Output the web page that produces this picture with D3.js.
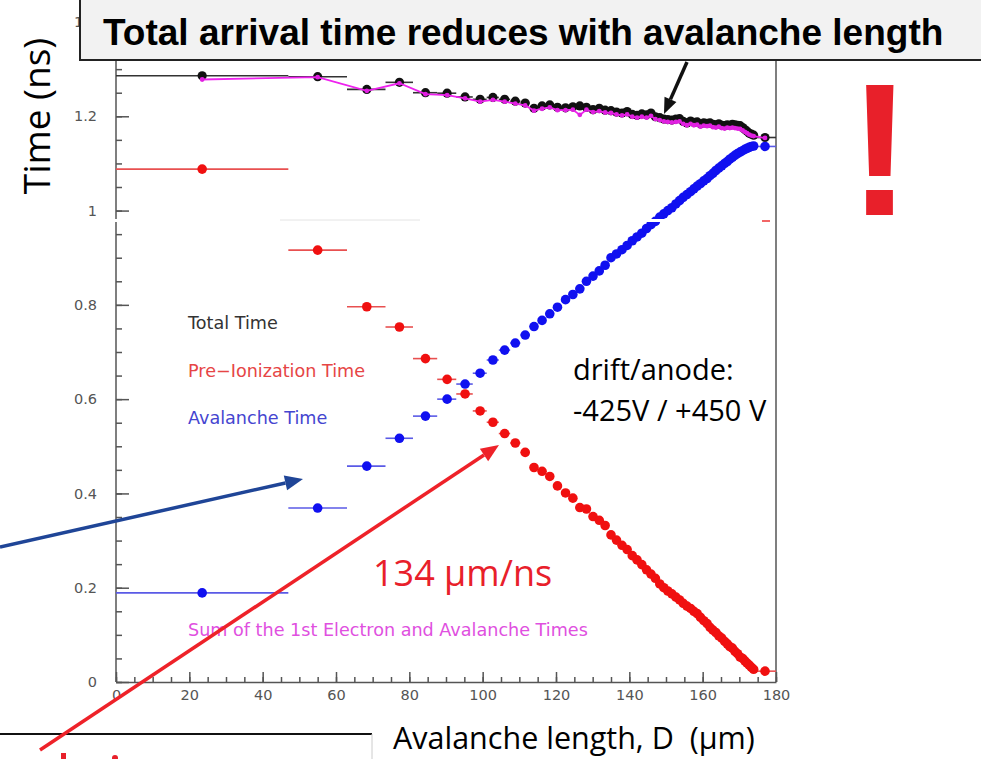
<!DOCTYPE html>
<html>
<head>
<meta charset="utf-8">
<script src="https://cdn.jsdelivr.net/npm/d3@7"></script>
<style>
  body { margin: 0; background: #fff; }
  svg { display: block; }
</style>
</head>
<body>
<svg id="chart"></svg>
<script>
// avalanche length bins (um)
var lengths = [23.5, 55, 68.4, 77.3, 84.4, 90.3, 95.2, 99.3, 102.8, 106, 108.9, 111.6, 114, 116.2, 118.3, 120.4, 122.6, 124.6, 126.5, 128.3,
  130.1, 131.8, 133.4, 135, 136.5, 138, 139.4, 140.8, 142.1, 143.4, 144.7, 145.9, 147.1, 148.3, 149.4, 150.5, 151.6, 152.7, 153.7, 154.7,
  155.7, 156.7, 157.6, 158.5, 159.4, 160.3, 161.2, 162.0, 162.8, 163.6, 164.4, 165.2, 166.0, 166.7, 167.4, 168.1, 168.8, 169.5, 170.2, 170.9,
  171.5, 172.1, 172.7, 173.3, 173.9, 177];
var binEdges = [0, 47, 63, 73.5, 81, 87.6, 92.8, 97.3, 101.1, 104.4, 107.5, 110.3, 112.8, 115.1, 117.3, 119.4, 121.5, 123.6, 125.6, 127.4,
  129.2, 131, 132.6, 134.2, 135.8, 137.3, 138.7, 140.1, 141.5, 142.8, 144.1, 145.3, 146.5, 147.7, 148.9, 150, 151.1, 152.2, 153.2, 154.2,
  155.2, 156.2, 157.2, 158.1, 159, 159.9, 160.8, 161.6, 162.4, 163.2, 164, 164.8, 165.6, 166.4, 167.1, 167.8, 168.5, 169.2, 169.9, 170.6,
  171.2, 171.8, 172.4, 173, 173.6, 174.2, 180];

var totalTime = [1.286, 1.284, 1.257, 1.272, 1.250, 1.249, 1.241, 1.236, 1.240, 1.236, 1.232, 1.228, 1.217, 1.222, 1.224, 1.219, 1.218, 1.220, 1.222, 1.219,
  1.214, 1.217, 1.213, 1.212, 1.209, 1.207, 1.210, 1.204, 1.202, 1.205, 1.203, 1.207, 1.199, 1.197, 1.194, 1.193, 1.192, 1.194, 1.195, 1.189,
  1.186, 1.190, 1.187, 1.188, 1.184, 1.186, 1.185, 1.186, 1.183, 1.182, 1.184, 1.181, 1.180, 1.182, 1.181, 1.183, 1.182, 1.181, 1.180, 1.176,
  1.172, 1.168, 1.164, 1.162, 1.160, 1.155];
var sumTime = [1.278, 1.283, 1.254, 1.270, 1.247, 1.245, 1.238, 1.231, 1.235, 1.231, 1.227, 1.223, 1.212, 1.216, 1.219, 1.213, 1.213, 1.214, 1.203, 1.214,
  1.209, 1.211, 1.208, 1.207, 1.204, 1.202, 1.204, 1.199, 1.197, 1.199, 1.197, 1.201, 1.194, 1.192, 1.189, 1.188, 1.187, 1.188, 1.189, 1.184,
  1.181, 1.184, 1.181, 1.182, 1.178, 1.180, 1.179, 1.180, 1.177, 1.176, 1.178, 1.175, 1.174, 1.176, 1.175, 1.176, 1.175, 1.174, 1.173, 1.170,
  1.167, 1.164, 1.161, 1.159, 1.158, 1.154];
var preIonTime = [1.088, 0.916, 0.796, 0.753, 0.686, 0.642, 0.611, 0.575, 0.551, 0.527, 0.507, 0.487, 0.455, 0.447, 0.436, 0.416, 0.401, 0.390, 0.370, 0.367,
  0.351, 0.343, 0.332, 0.312, 0.301, 0.290, 0.281, 0.268, 0.259, 0.249, 0.238, 0.229, 0.220, 0.208, 0.200, 0.193, 0.187, 0.180, 0.174, 0.167,
  0.161, 0.156, 0.150, 0.145, 0.137, 0.130, 0.124, 0.116, 0.110, 0.105, 0.098, 0.093, 0.086, 0.081, 0.075, 0.072, 0.065, 0.060, 0.053, 0.050,
  0.045, 0.040, 0.036, 0.031, 0.027, 0.023];
var avalancheTime = [0.189, 0.369, 0.458, 0.517, 0.564, 0.600, 0.632, 0.655, 0.683, 0.704, 0.719, 0.736, 0.754, 0.767, 0.781, 0.795, 0.811, 0.822, 0.834, 0.850,
  0.861, 0.872, 0.884, 0.900, 0.908, 0.917, 0.926, 0.936, 0.944, 0.952, 0.962, 0.970, 0.977, 0.986, 0.993, 1.000, 1.006, 1.014, 1.021, 1.028,
  1.034, 1.040, 1.046, 1.052, 1.057, 1.063, 1.068, 1.074, 1.079, 1.085, 1.090, 1.095, 1.100, 1.104, 1.109, 1.113, 1.117, 1.121, 1.124, 1.127,
  1.130, 1.132, 1.134, 1.136, 1.137, 1.136];

var xTicks = [0, 20, 40, 60, 80, 100, 120, 140, 160, 180];
var yTicks = [0, 0.2, 0.4, 0.6, 0.8, 1, 1.2, 1.4];

var W = 981, H = 759;
var svg = d3.select('#chart').attr('width', W).attr('height', H);
svg.append('rect').attr('width', W).attr('height', H).attr('fill', '#fff');

var x = d3.scaleLinear().domain([0, 180]).range([116, 776]);
var y = d3.scaleLinear().domain([0, 1.4]).range([682, 22]);

var tickFont = '"DejaVu Sans", sans-serif';

// frame
var frame = svg.append('g').attr('stroke', '#555').attr('stroke-width', 1.5);
frame.append('line').attr('x1', 116).attr('x2', 116).attr('y1', 0).attr('y2', 682);
frame.append('line').attr('x1', 776).attr('x2', 776).attr('y1', 0).attr('y2', 682);

// minor ticks
svg.append('g').attr('transform', 'translate(116,0)')
  .call(d3.axisLeft(y).tickValues(d3.range(0, 29).map(function(i){ return i * 0.05; })).tickSize(-6).tickSizeOuter(0).tickFormat(''))
  .call(function(g){ g.select('.domain').remove(); g.selectAll('line').attr('stroke', '#555').attr('stroke-width', 1.5); });
svg.append('g').attr('transform', 'translate(0,682)')
  .call(d3.axisBottom(x).tickValues(d3.range(0, 37).map(function(i){ return i * 5; })).tickSize(-5).tickSizeOuter(0).tickFormat(''))
  .call(function(g){ g.select('.domain').remove(); g.selectAll('line').attr('stroke', '#555').attr('stroke-width', 1.5); });

// major ticks + labels
svg.append('g').attr('transform', 'translate(116,0)')
  .call(d3.axisLeft(y).tickValues(yTicks).tickSize(-13).tickSizeOuter(0).tickPadding(19).tickFormat(d3.format('~g')))
  .call(function(g){
    g.select('.domain').remove();
    g.selectAll('line').attr('stroke', '#555').attr('stroke-width', 1.5);
    g.selectAll('text').attr('fill', '#555').style('font-family', tickFont).style('font-size', '14.5px');
  });
svg.append('g').attr('transform', 'translate(0,682)')
  .call(d3.axisBottom(x).tickValues(xTicks).tickSize(-10).tickSizeOuter(0).tickPadding(8))
  .call(function(g){
    g.select('.domain').attr('stroke', '#555').attr('stroke-width', 1.5);
    g.selectAll('line').attr('stroke', '#555').attr('stroke-width', 1.5);
    g.selectAll('text').attr('fill', '#555').style('font-family', tickFont).style('font-size', '14.5px');
  });

var pts = lengths.map(function(d, i){
  return {x: d, lo: binEdges[i], hi: binEdges[i + 1], tot: totalTime[i], sum: sumTime[i], pre: preIonTime[i], ava: avalancheTime[i]};
});

function series(key, barColor, dotColor, r){
  var g = svg.append('g');
  g.selectAll('line').data(pts).enter().append('line')
    .attr('x1', function(d){ return x(d.lo); })
    .attr('x2', function(d){ return x(d.hi); })
    .attr('y1', function(d){ return y(d[key]); })
    .attr('y2', function(d){ return y(d[key]); })
    .attr('stroke', barColor).attr('stroke-width', 1.6);
  g.selectAll('circle').data(pts).enter().append('circle')
    .attr('cx', function(d){ return x(d.x); })
    .attr('cy', function(d){ return y(d[key]); })
    .attr('r', r).attr('fill', dotColor);
}

series('tot', '#333', '#111', 4.6);

// magenta sum line
svg.append('path').datum(pts)
  .attr('d', d3.line().x(function(d){ return x(d.x); }).y(function(d){ return y(d.sum); }))
  .attr('fill', 'none').attr('stroke', '#ee22ee').attr('stroke-width', 1.8);
svg.append('g').selectAll('circle').data(pts).enter().append('circle')
  .attr('cx', function(d){ return x(d.x); })
  .attr('cy', function(d){ return y(d.sum); })
  .attr('r', 2.4).attr('fill', '#e020e0');

series('pre', '#e85050', '#f01010', 4.8);
series('ava', '#5a5ae6', '#1010f0', 4.8);

// scan artefact strip across the plot
svg.append('rect').attr('x', 112).attr('y', 219).attr('width', 662).attr('height', 3).attr('fill', '#fff');
svg.append('line').attr('x1', 280).attr('x2', 420).attr('y1', 220).attr('y2', 220).attr('stroke', '#e4e4e4').attr('stroke-width', 1);
svg.append('line').attr('x1', 762).attr('x2', 770).attr('y1', 221).attr('y2', 221).attr('stroke', '#e33').attr('stroke-width', 1.5);

// legend texts
var legFont = '"DejaVu Sans", sans-serif';
var legend = [
  {t: 'Total Time', c: '#333', yy: 329},
  {t: 'Pre\u2212Ionization Time', c: '#e64545', yy: 377},
  {t: 'Avalanche Time', c: '#4545d0', yy: 424},
  {t: 'Sum of the 1st Electron and Avalanche Times', c: '#e050e0', yy: 636}
];
svg.append('g').selectAll('text').data(legend).enter().append('text')
  .attr('x', 188).attr('y', function(d){ return d.yy; })
  .attr('fill', function(d){ return d.c; })
  .style('font-family', legFont).style('font-size', '17.6px')
  .text(function(d){ return d.t; });

// annotation font
var annFont = '"Open Sans", "Noto Sans", sans-serif';

svg.append('text').attr('transform', 'translate(50,116) rotate(-90)')
  .attr('text-anchor', 'middle').style('font-family', annFont).style('font-size', '37px')
  .text('Time (ns)');

svg.append('text').attr('x', 393).attr('y', 749)
  .style('font-family', annFont).style('font-size', '30.5px')
  .text('Avalanche length, D\u00a0 (\u03bcm)');

svg.append('text').attr('x', 373).attr('y', 586).attr('fill', '#e8202a')
  .style('font-family', annFont).style('font-size', '36px')
  .text('134 \u03bcm/ns');

svg.append('text').attr('x', 573).attr('y', 380)
  .style('font-family', annFont).style('font-size', '29px').text('drift/anode:');
svg.append('text').attr('x', 573).attr('y', 421)
  .style('font-family', annFont).style('font-size', '29px').text('-425V / +450 V');

svg.append('text').attr('x', 880).attr('y', 215).attr('text-anchor', 'middle').attr('fill', '#e8202a')
  .style('font-family', '"Liberation Sans", Arial, sans-serif').style('font-weight', 'bold').style('font-size', '190px')
  .text('!');

// bottom-left box
svg.append('line').attr('x1', 0).attr('x2', 372).attr('y1', 734).attr('y2', 734).attr('stroke', '#111').attr('stroke-width', 2);
svg.append('line').attr('x1', 372).attr('x2', 372).attr('y1', 734).attr('y2', 759).attr('stroke', '#ccc').attr('stroke-width', 1);
svg.append('rect').attr('x', 61).attr('y', 753).attr('width', 5).attr('height', 6).attr('fill', '#e8202a');
svg.append('circle').attr('cx', 115).attr('cy', 758).attr('r', 3).attr('fill', '#e8202a');

function arrow(x1, y1, x2, y2, color, w, hl, hw){
  var a = Math.atan2(y2 - y1, x2 - x1);
  var bx = x2 - hl * Math.cos(a), by = y2 - hl * Math.sin(a);
  var px = -Math.sin(a) * hw / 2, py = Math.cos(a) * hw / 2;
  svg.append('line').attr('x1', x1).attr('y1', y1).attr('x2', bx).attr('y2', by)
    .attr('stroke', color).attr('stroke-width', w);
  svg.append('path').attr('d', 'M' + x2 + ',' + y2 + 'L' + (bx + px) + ',' + (by + py) + 'L' + (bx - px) + ',' + (by - py) + 'Z')
    .attr('fill', color);
}
arrow(0, 547, 303, 479, '#1f4597', 3.5, 18, 15);
arrow(40, 750, 499, 445, '#ee2229', 3.5, 18, 15);

// title box
svg.append('rect').attr('x', 80).attr('y', -2).attr('width', 910).attr('height', 62)
  .attr('fill', '#f2f2f2').attr('stroke', '#222').attr('stroke-width', 2);
svg.append('text').attr('x', 103).attr('y', 45)
  .style('font-family', '"Liberation Sans", Arial, sans-serif').style('font-weight', 'bold').style('font-size', '37px')
  .text('Total arrival time reduces with avalanche length');

arrow(687, 62, 664, 114, '#111', 3.5, 16, 13);
</script>
</body>
</html>
